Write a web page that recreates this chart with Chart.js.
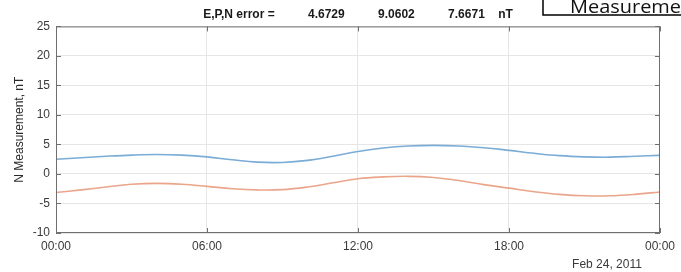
<!DOCTYPE html>
<html lang="en">
    <head>
        <meta charset="UTF-8" />
        <title>N Measurement</title>
        <script src="https://cdn.jsdelivr.net/npm/chart.js"></script>
        <style>
            html, body { margin: 0; padding: 0; background: #fff; }
            #wrap { width: 681px; height: 272px; }
        </style>
    </head>
    <body>
        <div id="wrap"><canvas id="myChart"></canvas></div>

        <script>
            // hours of the day (Feb 24, 2011)
            const hours = [0, 1, 2, 3, 4, 5, 6, 7, 8, 9, 10, 11, 12, 13, 14, 15, 16, 17, 18, 19, 20, 21, 22, 23, 24];
            const seriesBlue = [2.5, 2.75, 3.0, 3.2, 3.3, 3.2, 2.9, 2.4, 2.0, 1.95, 2.3, 3.0, 3.8, 4.4, 4.75, 4.85, 4.75, 4.45, 4.0, 3.5, 3.1, 2.9, 2.85, 3.0, 3.15];
            const seriesOrange = [-3.15, -2.7, -2.2, -1.75, -1.6, -1.75, -2.1, -2.5, -2.7, -2.65, -2.2, -1.5, -0.8, -0.5, -0.4, -0.6, -1.1, -1.8, -2.4, -3.0, -3.45, -3.7, -3.7, -3.45, -3.05];
            const xTickLabels = ["00:00", "06:00", "12:00", "18:00", "00:00"];
            const yTicks = [-10, -5, 0, 5, 10, 15, 20, 25];
            const titleText = "E,P,N error =          4.6729          9.0602          7.6671    nT";

            const FONT = "'Liberation Sans', Arial, sans-serif";

            // MATLAB style: inner ticks, box, date label, clipped "Measurement" box
            const extras = {
                id: "extras",
                afterDraw(chart) {
                    const c = chart.ctx;
                    const a = chart.chartArea;
                    const xs = chart.scales.x;
                    const ys = chart.scales.y;
                    c.save();
                    c.strokeStyle = "#6f6f6f";
                    c.lineWidth = 1;
                    c.strokeRect(a.left + 0.5, a.top + 0.5, a.right - a.left - 1, a.bottom - a.top - 1);
                    c.beginPath();
                    xs.ticks.forEach((t) => {
                        const px = Math.round(xs.getPixelForValue(t.value)) + 0.5;
                        c.moveTo(px, a.bottom); c.lineTo(px, a.bottom - 5);
                        c.moveTo(px, a.top); c.lineTo(px, a.top + 5);
                    });
                    ys.ticks.forEach((t) => {
                        const py = Math.round(ys.getPixelForValue(t.value)) + 0.5;
                        c.moveTo(a.left, py); c.lineTo(a.left + 5, py);
                        c.moveTo(a.right, py); c.lineTo(a.right - 5, py);
                    });
                    c.stroke();

                    c.fillStyle = "#3a3a3a";
                    c.font = "12px " + FONT;
                    c.textAlign = "center";
                    c.textBaseline = "middle";
                    c.fillText("Feb 24, 2011", a.right - 53, a.bottom + 32);

                    // clipped box at top right
                    c.fillStyle = "#fff";
                    c.fillRect(543, -2, 150, 17);
                    c.strokeStyle = "#000";
                    c.lineWidth = 1.5;
                    c.strokeRect(543, -2, 150, 17);
                    c.fillStyle = "#111";
                    c.font = "19px 'Open Sans', sans-serif";
                    c.textAlign = "left";
                    c.textBaseline = "alphabetic";
                    c.translate(570, 13);
                    c.scale(1.05, 1);
                    c.fillText("Measurement", 0, 0);
                    c.restore();
                },
            };

            const ctx = document.getElementById("myChart").getContext("2d");
            const myChart = new Chart(ctx, {
                type: "line",
                data: {
                    datasets: [
                        {
                            label: "E",
                            data: hours.map((h, i) => ({ x: h, y: seriesBlue[i] })),
                            borderColor: "rgb(122, 172, 214)",
                            borderWidth: 1.6,
                            pointRadius: 0,
                            tension: 0.4,
                            fill: false,
                        },
                        {
                            label: "N",
                            data: hours.map((h, i) => ({ x: h, y: seriesOrange[i] })),
                            borderColor: "rgb(234, 165, 138)",
                            borderWidth: 1.6,
                            pointRadius: 0,
                            tension: 0.4,
                            fill: false,
                        },
                    ],
                },
                options: {
                    responsive: true,
                    maintainAspectRatio: false,
                    animation: false,
                    layout: { padding: { left: 0, right: 14, top: 0, bottom: 0 } },
                    plugins: {
                        legend: { display: false },
                        tooltip: { enabled: false },
                        title: {
                            display: true,
                            text: titleText,
                            fullSize: false,
                            color: "#1a1a1a",
                            font: { family: FONT, size: 12, weight: "bold" },
                            padding: { top: 7, bottom: 5 },
                        },
                    },
                    scales: {
                        x: {
                            type: "linear",
                            min: 0,
                            max: 24,
                            afterBuildTicks: (s) => {
                                s.ticks = xTickLabels.map((_, i) => ({ value: i * 6 }));
                            },
                            afterFit: (s) => { s.height = 39; },
                            ticks: {
                                padding: 6,
                                maxRotation: 0,
                                color: "#3a3a3a",
                                font: { family: FONT, size: 12 },
                                callback: (v) => xTickLabels[Math.round(v / 6)],
                            },
                            grid: { color: "#e6e6e6", drawTicks: false },
                            border: { display: false },
                        },
                        y: {
                            min: -10,
                            max: 25,
                            afterBuildTicks: (s) => {
                                s.ticks = yTicks.map((v) => ({ value: v }));
                            },
                            afterFit: (s) => { s.width = 56; },
                            ticks: {
                                padding: 6,
                                color: "#3a3a3a",
                                font: { family: FONT, size: 12 },
                            },
                            grid: { color: "#e6e6e6", drawTicks: false },
                            border: { display: false },
                            title: {
                                display: true,
                                text: "N Measurement, nT",
                                color: "#2a2a2a",
                                font: { family: FONT, size: 12 },
                                padding: { top: 12, bottom: 0 },
                            },
                        },
                    },
                },
                plugins: [extras],
            });
        </script>
    </body>
</html>
